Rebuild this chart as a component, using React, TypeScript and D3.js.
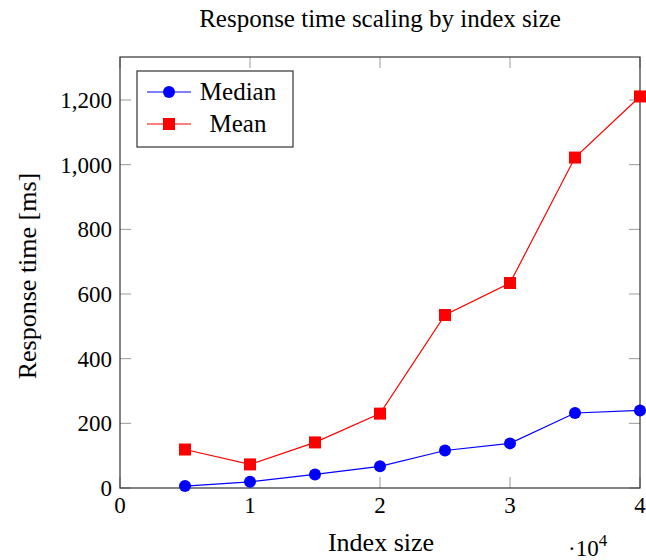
import React from "react"
import { scaleLinear, line } from "d3"

const indexSizes = [0.5, 1, 1.5, 2, 2.5, 3, 3.5, 4]
const medianValues = [6, 19, 42, 67, 116, 138, 232, 240]
const meanValues = [119, 73, 141, 230, 535, 634, 1022, 1211]
const xTicks = [0, 1, 2, 3, 4]
const yTicks = [0, 200, 400, 600, 800, 1000, 1200]

const font = "'Liberation Serif', 'DejaVu Serif', serif"

export default function App() {
  const margin = { top: 57, right: 6, bottom: 72, left: 120 }
  const W = 646
  const H = 560
  const width = W - margin.left - margin.right
  const height = H - margin.top - margin.bottom

  const x = scaleLinear().domain([0, 4]).range([0, width])
  const y = scaleLinear().domain([0, 1333]).range([height, 0])

  const path = line<number>()
    .x((d, i) => x(indexSizes[i]))
    .y(d => y(d))

  const tickLen = 11
  const fmt = (v: number) => v.toLocaleString("en-US")

  return (
    <svg width={W} height={H} style={{ position: "absolute", left: 0, top: 0, fontFamily: font }}>
      <text x={380} y={27} textAnchor="middle" fontSize={25}>
        Response time scaling by index size
      </text>
      <g transform={"translate(" + margin.left + "," + margin.top + ")"}>
        {xTicks.map(t => (
          <g key={"x" + t}>
            <line x1={x(t)} x2={x(t)} y1={height} y2={height - tickLen} stroke="#999" />
            <line x1={x(t)} x2={x(t)} y1={0} y2={tickLen} stroke="#999" />
            <text x={x(t)} y={height + 25} textAnchor="middle" fontSize={23}>{t}</text>
          </g>
        ))}
        {yTicks.map(t => (
          <g key={"y" + t}>
            <line x1={0} x2={tickLen} y1={y(t)} y2={y(t)} stroke="#999" />
            <line x1={width} x2={width - tickLen} y1={y(t)} y2={y(t)} stroke="#999" />
            <text x={-8} y={y(t) + 8} textAnchor="end" fontSize={23}>{fmt(t)}</text>
          </g>
        ))}
        <rect x={0} y={0} width={width} height={height} fill="none" stroke="#333" strokeWidth={1.2} />

        <path d={path(meanValues) || ""} fill="none" stroke="red" strokeWidth={1.2} />
        {meanValues.map((v, i) => (
          <rect key={"m" + i} x={x(indexSizes[i]) - 6} y={y(v) - 6} width={12} height={12} fill="red" />
        ))}
        <path d={path(medianValues) || ""} fill="none" stroke="blue" strokeWidth={1.2} />
        {medianValues.map((v, i) => (
          <circle key={"d" + i} cx={x(indexSizes[i])} cy={y(v)} r={6} fill="blue" />
        ))}

        <g transform="translate(17,14)">
          <rect x={0} y={0} width={156} height={76} fill="white" stroke="#333" strokeWidth={1.2} />
          <line x1={10} x2={54} y1={21} y2={21} stroke="blue" strokeWidth={1.2} />
          <circle cx={32} cy={21} r={6} fill="blue" />
          <text x={101} y={29} textAnchor="middle" fontSize={25}>Median</text>
          <line x1={10} x2={54} y1={53} y2={53} stroke="red" strokeWidth={1.2} />
          <rect x={26} y={47} width={12} height={12} fill="red" />
          <text x={101} y={61} textAnchor="middle" fontSize={25}>Mean</text>
        </g>
      </g>
      <text x={381} y={551} textAnchor="middle" fontSize={26}>Index size</text>
      <text x={568} y={556} fontSize={23}>
        ·10<tspan dy={-10} fontSize={17}>4</tspan>
      </text>
      <text transform={"translate(36,276) rotate(-90)"} textAnchor="middle" fontSize={26}>
        Response time [ms]
      </text>
    </svg>
  )
}
